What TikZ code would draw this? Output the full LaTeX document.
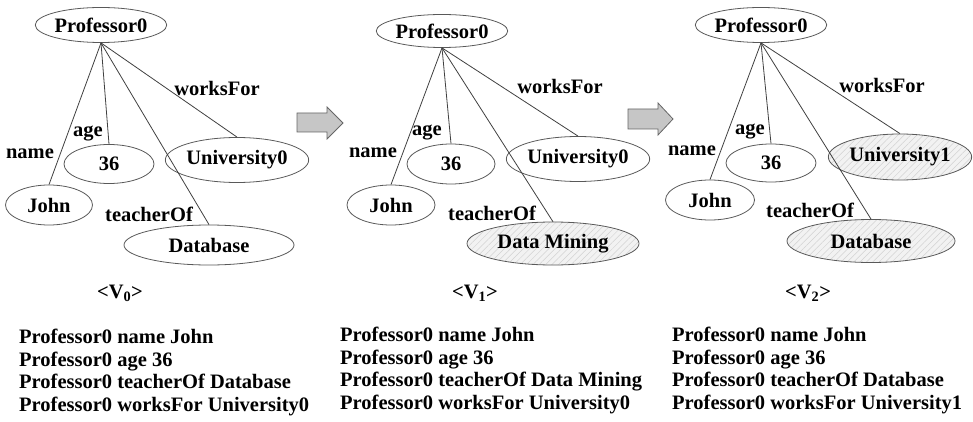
\documentclass[tikz,border=0pt]{standalone}
\usepackage{fontspec}
\setmainfont{Liberation Serif}
\usetikzlibrary{shapes.geometric,patterns.meta}
\tikzset{
  ell/.style={draw=black!65, line width=0.8pt, ellipse, inner sep=0pt,
    font=\fontsize{20.5}{24}\selectfont\bfseries},
  hat/.style={ell, preaction={fill=gray!10},
    pattern={Lines[angle=45, distance=4.5pt, line width=0.5pt]}, pattern color=gray!35},
  lab/.style={inner sep=0pt, font=\fontsize{20.5}{24}\selectfont\bfseries},
  edge/.style={draw=black!75, line width=0.8pt},
  blockarrow/.style={draw=black!60, line width=0.8pt, fill=gray!45},
  triples/.style={inner sep=0pt, anchor=north west, align=left,
    font=\fontsize{20.5}{22.5}\selectfont\bfseries}
}
\begin{document}
\begin{tikzpicture}[x=1pt,y=-1pt]
\useasboundingbox (0,0) rectangle (973,422);

% ---------- Graph V0 ----------
\node[ell, minimum width=131, minimum height=35] (p1) at (101,25) {Professor0};
\node[ell, minimum width=87, minimum height=40] (j1) at (49,205) {John};
\node[ell, minimum width=90, minimum height=39] (a1) at (109,164) {36};
\node[ell, minimum width=112, minimum height=45] (u1) at (237,160) {University0};
\node[ell, minimum width=170, minimum height=40] (d1) at (209,245) {Database};
\draw[edge] (p1.south) -- (j1.north);
\draw[edge] (p1.south) -- (a1.north);
\draw[edge] (p1.south) -- (d1.north);
\draw[edge] (p1.south) -- (u1.north);
\node[lab] (n1) at (30,154) {name};
\node[lab] (g1) at (88,134) {age};
\node[lab] (t1) at (149,214) {teacherOf};
\node[lab] (w1) at (217,88) {worksFor};
\node[lab] (v0) at (120,293) {{<}V\textsubscript{0}{>}};

% ---------- Graph V1 ----------
\node[ell, minimum width=129, minimum height=33] (p2) at (442,31) {Professor0};
\node[ell, minimum width=88, minimum height=40] (j2) at (391,205) {John};
\node[ell, minimum width=88, minimum height=40] (a2) at (451,164) {36};
\node[ell, minimum width=110, minimum height=45] (u2) at (578,159) {University0};
\node[hat, minimum width=172, minimum height=43] (d2) at (553,243.5) {Data Mining};
\draw[edge] (p2.south) -- (j2.north);
\draw[edge] (p2.south) -- (a2.north);
\draw[edge] (p2.south) -- (d2.north);
\draw[edge] (p2.south) -- (u2.north);
\node[lab] (n2) at (373,153) {name};
\node[lab] (g2) at (427,133) {age};
\node[lab] (t2) at (492,213) {teacherOf};
\node[lab] (w2) at (560,86) {worksFor};
\node[lab] (v1) at (475,293) {{<}V\textsubscript{1}{>}};

% ---------- Graph V2 ----------
\node[ell, minimum width=131, minimum height=35] (p3) at (761,25) {Professor0};
\node[ell, minimum width=89, minimum height=40] (j3) at (710,200) {John};
\node[ell, minimum width=90, minimum height=38] (a3) at (771,163) {36};
\node[hat, minimum width=114, minimum height=46] (u3) at (900,157) {University1};
\node[hat, minimum width=168, minimum height=43] (d3) at (871,241) {Database};
\draw[edge] (p3.south) -- (j3.north);
\draw[edge] (p3.south) -- (a3.north);
\draw[edge] (p3.south) -- (d3.north);
\draw[edge] (p3.south) -- (u3.north);
\node[lab] (n3) at (692,151) {name};
\node[lab] (g3) at (750,132) {age};
\node[lab] (t3) at (810,210) {teacherOf};
\node[lab] (w3) at (882,85) {worksFor};
\node[lab] (v2) at (808,293) {{<}V\textsubscript{2}{>}};

% ---------- block arrows ----------
\draw[blockarrow] (297,113) -- (327,113) -- (327,107) -- (343,123) -- (327,139) -- (327,132) -- (297,132) -- cycle;
\draw[blockarrow] (628,109) -- (658,109) -- (658,103) -- (673,119) -- (658,135) -- (658,129) -- (628,129) -- cycle;

% ---------- triples ----------
\node[triples] (tr1) at (19,329) {Professor0 name John\\Professor0 age 36\\Professor0 teacherOf Database\\Professor0 worksFor University0};
\node[triples] (tr2) at (340,327) {Professor0 name John\\Professor0 age 36\\Professor0 teacherOf Data Mining\\Professor0 worksFor University0};
\node[triples] (tr3) at (672,327) {Professor0 name John\\Professor0 age 36\\Professor0 teacherOf Database\\Professor0 worksFor University1};
\end{tikzpicture}
\end{document}
